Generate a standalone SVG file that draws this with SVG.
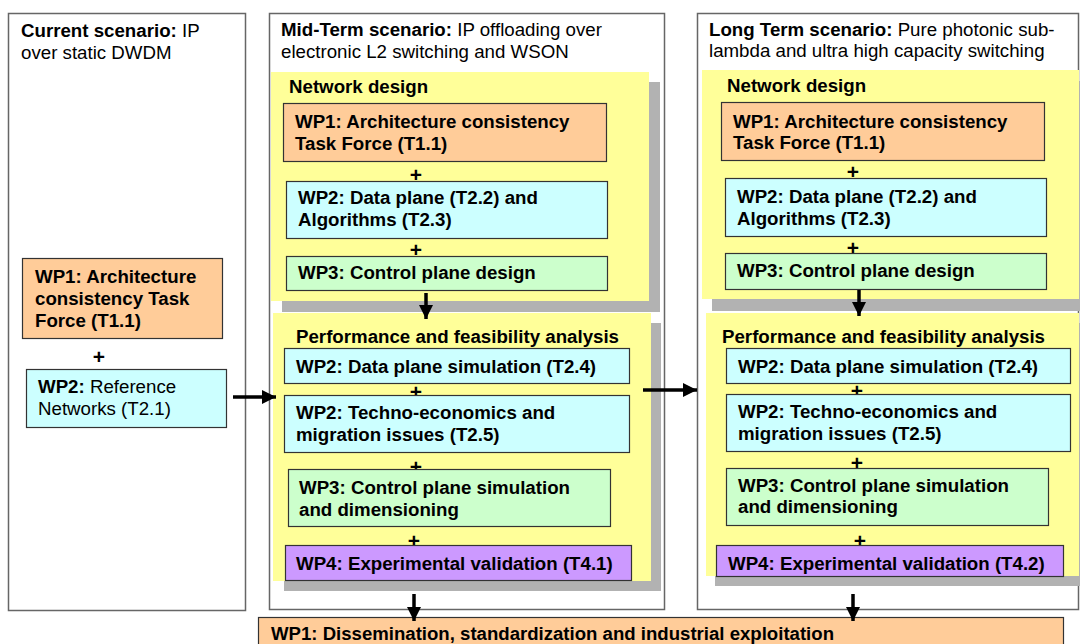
<svg xmlns="http://www.w3.org/2000/svg" width="1080" height="644" viewBox="0 0 1080 644">
<style>
.panel{fill:#fff;stroke:#666;stroke-width:1.5}
.sh{fill:#b2b2b2}
.yel{fill:#ffff99}
.box{stroke:#333;stroke-width:1.2}
.or{fill:#ffcc99}.cy{fill:#ccffff}.gr{fill:#ccffcc}.pu{fill:#cc99ff}
text{font-family:"Liberation Sans",Arial,sans-serif;font-size:18.7px;fill:#000}
.b{font-weight:bold}
.p{font-weight:bold;font-size:21px;text-anchor:middle}
.arr{stroke:#000;stroke-width:3.5;fill:none;marker-end:url(#ah)}
</style>
<defs>
<marker id="ah" markerWidth="4" markerHeight="4" refX="4" refY="2" orient="auto" markerUnits="strokeWidth">
<path d="M0,0 L4,2 L0,4 Z" fill="#000"/>
</marker>
</defs>
<rect width="1080" height="644" fill="#fff"/>

<g id="current">
<rect class="panel" x="8.5" y="13.5" width="237" height="597"/>
<text x="21" y="37"><tspan class="b">Current scenario:</tspan> IP</text>
<text x="21" y="59">over static DWDM</text>
</g>
<g id="cur-wp1">
<rect class="box or" x="22.5" y="258.5" width="200" height="80"/>
<text class="b" x="35" y="283">WP1: Architecture</text>
<text class="b" x="35" y="305">consistency Task</text>
<text class="b" x="35" y="327">Force (T1.1)</text>
</g>
<text class="p" x="99" y="364">+</text>
<g id="cur-wp2">
<rect class="box cy" x="26.5" y="369.5" width="200" height="58"/>
<text x="38" y="393"><tspan class="b">WP2:</tspan> Reference</text>
<text x="38" y="415">Networks (T2.1)</text>
</g>

<g id="mid">
<rect class="panel" x="269.5" y="13.5" width="395" height="596"/>
<text x="281" y="36"><tspan class="b">Mid-Term scenario:</tspan> IP offloading over</text>
<text x="281" y="58">electronic L2 switching and WSON</text>
</g>
<g id="mid-design">
<rect class="sh" x="282" y="82" width="378" height="230"/>
<rect class="yel" x="271" y="72" width="378" height="229"/>
<text class="b" x="289" y="93">Network design</text>
</g>
<g id="mid-wp1">
<rect class="box or" x="283.5" y="103.5" width="323" height="58"/>
<text class="b" x="295" y="128">WP1: Architecture consistency</text>
<text class="b" x="295" y="150">Task Force (T1.1)</text>
</g>
<text class="p" x="416" y="182">+</text>
<g id="mid-wp2">
<rect class="box cy" x="286.5" y="181.5" width="321" height="57"/>
<text class="b" x="298" y="204">WP2: Data plane (T2.2) and</text>
<text class="b" x="298" y="226">Algorithms (T2.3)</text>
</g>
<text class="p" x="416" y="257">+</text>
<g id="mid-wp3">
<rect class="box gr" x="286.5" y="256.5" width="321" height="34"/>
<text class="b" x="298" y="279">WP3: Control plane design</text>
</g>
<g id="mid-perf">
<rect class="sh" x="284" y="323" width="377" height="268"/>
<rect class="yel" x="273" y="313" width="378" height="268"/>
<text class="b" x="296" y="343">Performance and feasibility analysis</text>
</g>
<g id="mid-dps">
<rect class="box cy" x="284.5" y="348.5" width="345" height="35"/>
<text class="b" x="296" y="373">WP2: Data plane simulation (T2.4)</text>
</g>
<text class="p" x="416" y="399">+</text>
<g id="mid-tech">
<rect class="box cy" x="284.5" y="395.5" width="345" height="57"/>
<text class="b" x="296" y="419">WP2: Techno-economics and</text>
<text class="b" x="296" y="441">migration issues (T2.5)</text>
</g>
<text class="p" x="416" y="474">+</text>
<g id="mid-cps">
<rect class="box gr" x="288.5" y="469.5" width="322" height="57"/>
<text class="b" x="299" y="494">WP3: Control plane simulation</text>
<text class="b" x="299" y="516">and dimensioning</text>
</g>
<text class="p" x="414" y="548">+</text>
<g id="mid-wp4">
<rect class="box pu" x="285.5" y="545.5" width="346" height="35"/>
<text class="b" x="296" y="570">WP4: Experimental validation (T4.1)</text>
</g>

<g id="long">
<rect class="panel" x="697.5" y="13.5" width="381" height="596"/>
<text x="709" y="36"><tspan class="b">Long Term scenario:</tspan> Pure photonic sub-</text>
<text x="709" y="57">lambda and ultra high capacity switching</text>
</g>
<g id="long-design">
<rect class="sh" x="712" y="81" width="380" height="230"/>
<rect class="yel" x="702" y="70" width="377" height="229"/>
<text class="b" x="727" y="92">Network design</text>
</g>
<g id="long-wp1">
<rect class="box or" x="721.5" y="102.5" width="323" height="58"/>
<text class="b" x="733" y="128">WP1: Architecture consistency</text>
<text class="b" x="733" y="149">Task Force (T1.1)</text>
</g>
<text class="p" x="853" y="179">+</text>
<g id="long-wp2">
<rect class="box cy" x="725.5" y="178.5" width="321" height="58"/>
<text class="b" x="737" y="203">WP2: Data plane (T2.2) and</text>
<text class="b" x="737" y="225">Algorithms (T2.3)</text>
</g>
<text class="p" x="853" y="255">+</text>
<g id="long-wp3">
<rect class="box gr" x="725.5" y="253.5" width="321" height="36"/>
<text class="b" x="737" y="277">WP3: Control plane design</text>
</g>
<g id="long-perf">
<rect class="sh" x="715" y="323" width="370" height="263"/>
<rect class="yel" x="706" y="313" width="373" height="263"/>
<text class="b" x="722" y="343">Performance and feasibility analysis</text>
</g>
<g id="long-dps">
<rect class="box cy" x="726.5" y="348.5" width="344" height="35"/>
<text class="b" x="738" y="373">WP2: Data plane simulation (T2.4)</text>
</g>
<text class="p" x="857" y="398">+</text>
<g id="long-tech">
<rect class="box cy" x="726.5" y="394.5" width="344" height="57"/>
<text class="b" x="738" y="418">WP2: Techno-economics and</text>
<text class="b" x="738" y="440">migration issues (T2.5)</text>
</g>
<text class="p" x="857" y="470">+</text>
<g id="long-cps">
<rect class="box gr" x="726.5" y="468.5" width="322" height="57"/>
<text class="b" x="738" y="492">WP3: Control plane simulation</text>
<text class="b" x="738" y="513">and dimensioning</text>
</g>
<text class="p" x="860" y="548">+</text>
<g id="long-wp4">
<rect class="box pu" x="716.5" y="545.5" width="347" height="31"/>
<text class="b" x="728" y="570">WP4: Experimental validation (T4.2)</text>
</g>

<g id="dissemination">
<rect class="box or" x="258.5" y="617.5" width="805" height="40"/>
<text class="b" x="271" y="640" textLength="563" lengthAdjust="spacingAndGlyphs">WP1: Dissemination, standardization and industrial exploitation</text>
</g>

<g id="connectors">
<line class="arr" x1="233" y1="397" x2="276" y2="397"/>
<line class="arr" x1="643" y1="390" x2="697" y2="390"/>
<line class="arr" x1="426" y1="293" x2="426" y2="319"/>
<line class="arr" x1="859" y1="290" x2="859" y2="316"/>
<line class="arr" x1="414" y1="594" x2="414" y2="621"/>
<line class="arr" x1="853" y1="594" x2="853" y2="621"/>
</g>
</svg>
